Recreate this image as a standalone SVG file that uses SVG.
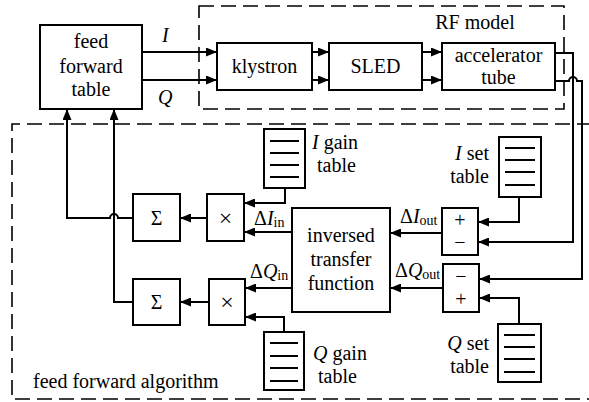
<svg xmlns="http://www.w3.org/2000/svg" width="589" height="402" viewBox="0 0 589 402" font-family="Liberation Serif, serif" font-size="20">
<defs>
<marker id="arr" markerUnits="userSpaceOnUse" markerWidth="11" markerHeight="9" refX="11" refY="4.5" orient="auto">
<path d="M0,0 L11,4.5 L0,9 z" fill="#000"/>
</marker>
<style>
.box{fill:#fff;stroke:#000;stroke-width:2}
.dash{fill:none;stroke:#000;stroke-width:1.6;stroke-dasharray:15,7}
.ln{fill:none;stroke:#000;stroke-width:2}
.ar{fill:none;stroke:#000;stroke-width:2;marker-end:url(#arr)}
.c{text-anchor:middle}
.r{text-anchor:end}
.it{font-style:italic}
.sub{font-size:14px}
.op{font-size:24px}
</style>
</defs>
<rect width="589" height="402" fill="#fff"/>
<g id="rf-model-frame">
<rect class="dash" x="199" y="6" width="365" height="103"/>
<text class="c" x="475" y="29">RF model</text>
</g>
<g id="ff-algorithm-frame">
<path class="dash" d="M592,124 H12 V399 H592"/>
<text x="33" y="388">feed forward algorithm</text>
</g>
<g id="connectors">
<path class="ar" d="M142,52 H217"/>
<path class="ar" d="M142,80 H217"/>
<path class="ar" d="M312,52 H329"/>
<path class="ar" d="M312,80 H329"/>
<path class="ar" d="M422,52 H442"/>
<path class="ar" d="M422,80 H442"/>
<path class="ar" d="M555,53 H573 V242 H478"/>
<path class="ar" d="M555,81 H569 a4,4 0 0 1 8,0 H582 V279 H479"/>
<path class="ar" d="M519,197 V222 H478"/>
<path class="ar" d="M519,324 V298 H479"/>
<path class="ar" d="M442,233 H390"/>
<path class="ar" d="M443,288 H390"/>
<path class="ar" d="M292,232 H244"/>
<path class="ar" d="M292,288 H245"/>
<path class="ar" d="M285,188 V203 H244"/>
<path class="ar" d="M284,332 V317 H245"/>
<path class="ar" d="M207,218 H180"/>
<path class="ar" d="M209,302 H180"/>
<path class="ar" d="M133,218 H118 a4,4 0 0 0 -8,0 H67 V109"/>
<path class="ar" d="M133,302 H114 V109"/>
</g>
<g id="labels">
<text class="it" x="162" y="42">I</text>
<text class="it" x="158" y="104">Q</text>
<text x="400" y="223">Δ<tspan class="it">I</tspan><tspan class="sub" dy="2">out</tspan></text>
<text x="395" y="277">Δ<tspan class="it">Q</tspan><tspan class="sub" dy="2">out</tspan></text>
<text x="254" y="225">Δ<tspan class="it">I</tspan><tspan class="sub" dy="2">in</tspan></text>
<text x="250" y="278">Δ<tspan class="it">Q</tspan><tspan class="sub" dy="2">in</tspan></text>
</g>
<g id="feed-forward-table">
<rect class="box" x="40" y="25" width="102" height="84"/>
<text class="c" x="91" y="48">feed</text>
<text class="c" x="91" y="73">forward</text>
<text class="c" x="91" y="96">table</text>
</g>
<g id="klystron">
<rect class="box" x="217" y="43" width="95" height="47"/>
<text class="c" x="264.5" y="73">klystron</text>
</g>
<g id="sled">
<rect class="box" x="329" y="43" width="93" height="47"/>
<text class="c" x="375.5" y="73">SLED</text>
</g>
<g id="accelerator-tube">
<rect class="box" x="442" y="43" width="113" height="47"/>
<text class="c" x="498.5" y="62">accelerator</text>
<text class="c" x="498.5" y="84">tube</text>
</g>
<g id="i-gain-table">
<rect class="box" x="264" y="129" width="41" height="59"/>
<path class="ln" d="M270,141 H299 M270,153 H299 M270,165 H299 M270,177 H299"/>
<text x="312" y="149"><tspan class="it">I</tspan> gain</text>
<text x="317" y="172">table</text>
</g>
<g id="q-gain-table">
<rect class="box" x="264" y="332" width="40" height="58"/>
<path class="ln" d="M270,343 H298 M270,356 H298 M270,368 H298 M270,381 H298"/>
<text x="313" y="360"><tspan class="it">Q</tspan> gain</text>
<text x="318" y="383">table</text>
</g>
<g id="i-set-table">
<rect class="box" x="499" y="137" width="42" height="60"/>
<path class="ln" d="M505,148 H535 M505,160 H535 M505,172 H535 M505,185 H535"/>
<text class="r" x="489" y="160"><tspan class="it">I</tspan> set</text>
<text class="r" x="489" y="183">table</text>
</g>
<g id="q-set-table">
<rect class="box" x="498" y="324" width="43" height="58"/>
<path class="ln" d="M504,335 H535 M504,347 H535 M504,359 H535 M504,372 H535"/>
<text class="r" x="489" y="350"><tspan class="it">Q</tspan> set</text>
<text class="r" x="489" y="373">table</text>
</g>
<g id="i-comparator">
<rect class="box" x="442" y="208" width="36" height="47"/>
<text class="c" x="460" y="227">+</text>
<text class="c" x="460" y="249">−</text>
</g>
<g id="q-comparator">
<rect class="box" x="443" y="264" width="36" height="48"/>
<text class="c" x="461" y="283">−</text>
<text class="c" x="461" y="306">+</text>
</g>
<g id="inversed-transfer-function">
<rect class="box" x="292" y="208" width="98" height="104"/>
<text class="c" x="341" y="242">inversed</text>
<text class="c" x="341" y="266">transfer</text>
<text class="c" x="341" y="290">function</text>
</g>
<g id="i-multiplier">
<rect class="box" x="207" y="194" width="37" height="47"/>
<text class="c op" x="225.5" y="226">×</text>
</g>
<g id="q-multiplier">
<rect class="box" x="209" y="279" width="36" height="46"/>
<text class="c op" x="227" y="310">×</text>
</g>
<g id="i-sum">
<rect class="box" x="133" y="194" width="47" height="47"/>
<text class="c" x="156.5" y="225">Σ</text>
</g>
<g id="q-sum">
<rect class="box" x="133" y="279" width="47" height="46"/>
<text class="c" x="156.5" y="309">Σ</text>
</g>
</svg>
